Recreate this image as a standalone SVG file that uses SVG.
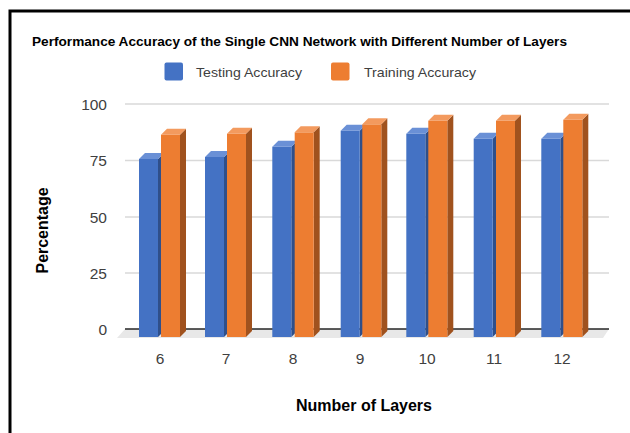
<svg xmlns="http://www.w3.org/2000/svg" width="630" height="433" viewBox="0 0 630 433">
<style>
.grid{stroke:#d9d9d9;stroke-width:1.5}
.axis{stroke:#262626;stroke-width:1.5}
.bf{fill:#4472c4}.bt{fill:#6a90d6}.bs{fill:#2f4f8a}
.of{fill:#ed7d31}.ot{fill:#f39a5e}.os{fill:#a0521e}
.t{font-family:"Liberation Sans",Arial,sans-serif;fill:#404040}
.tick{font-size:15.5px}
.bold{font-weight:bold;fill:#000}
</style>
<rect width="630" height="433" fill="#fff"/>
<rect x="10" y="11" width="700" height="500" fill="none" stroke="#000" stroke-width="3"/>
<text class="t bold" x="32" y="45.5" font-size="12.5" textLength="535" lengthAdjust="spacingAndGlyphs">Performance Accuracy of the Single CNN Network with Different Number of Layers</text>
<g id="legend">
<rect x="164.5" y="62.5" width="18.5" height="18" rx="2" class="bf"/>
<text class="t" x="196" y="77" font-size="13.5" fill="#262626" textLength="106" lengthAdjust="spacingAndGlyphs">Testing Accuracy</text>
<rect x="331" y="62.5" width="18.5" height="18" rx="2" class="of"/>
<text class="t" x="364" y="77" font-size="13.5" fill="#262626" textLength="112" lengthAdjust="spacingAndGlyphs">Training Accuracy</text>
</g>
<g id="gridlines">
<line class="grid" x1="125" y1="104" x2="609" y2="104"/>
<line class="grid" x1="125" y1="160.5" x2="609" y2="160.5"/>
<line class="grid" x1="125" y1="217" x2="609" y2="217"/>
<line class="grid" x1="125" y1="273" x2="609" y2="273"/>
</g>
<polygon id="floor" points="125,329 609,329 603,338 117,338" fill="#e8e8e8"/>
<line class="axis" x1="125" y1="329" x2="609" y2="329"/>
<g id="yticks" class="t tick" text-anchor="end">
<text x="107" y="110">100</text>
<text x="107" y="166">75</text>
<text x="107" y="222.5">50</text>
<text x="107" y="278.5">25</text>
<text x="107" y="335">0</text>
</g>
<g id="bars">
<g id="c6">
<polygon class="bs" points="158,159 164,153 164,331 158,337"/><rect class="bf" x="139" y="159" width="19" height="178"/><polygon class="bt" points="139,159 158,159 164,153 145,153"/>
<polygon class="os" points="180,134.7 186,128.7 186,331 180,337"/><rect class="of" x="161" y="134.7" width="19" height="202.3"/><polygon class="ot" points="161,134.7 180,134.7 186,128.7 167,128.7"/>
</g>
<g id="c7">
<polygon class="bs" points="224,157 230,151 230,331 224,337"/><rect class="bf" x="205" y="157" width="19" height="180"/><polygon class="bt" points="205,157 224,157 230,151 211,151"/>
<polygon class="os" points="246,133.7 252,127.7 252,331 246,337"/><rect class="of" x="227" y="133.7" width="19" height="203.3"/><polygon class="ot" points="227,133.7 246,133.7 252,127.7 233,127.7"/>
</g>
<g id="c8">
<polygon class="bs" points="291.3,146.7 297.3,140.7 297.3,331 291.3,337"/><rect class="bf" x="272.3" y="146.7" width="19" height="190.3"/><polygon class="bt" points="272.3,146.7 291.3,146.7 297.3,140.7 278.3,140.7"/>
<polygon class="os" points="313.7,132.3 319.7,126.3 319.7,331 313.7,337"/><rect class="of" x="294.7" y="132.3" width="19" height="204.7"/><polygon class="ot" points="294.7,132.3 313.7,132.3 319.7,126.3 300.7,126.3"/>
</g>
<g id="c9">
<polygon class="bs" points="359.7,130.7 365.7,124.7 365.7,331 359.7,337"/><rect class="bf" x="340.7" y="130.7" width="19" height="206.3"/><polygon class="bt" points="340.7,130.7 359.7,130.7 365.7,124.7 346.7,124.7"/>
<polygon class="os" points="381.3,124.3 387.3,118.3 387.3,331 381.3,337"/><rect class="of" x="362.3" y="124.3" width="19" height="212.7"/><polygon class="ot" points="362.3,124.3 381.3,124.3 387.3,118.3 368.3,118.3"/>
</g>
<g id="c10">
<polygon class="bs" points="425.3,133.7 431.3,127.7 431.3,331 425.3,337"/><rect class="bf" x="406.3" y="133.7" width="19" height="203.3"/><polygon class="bt" points="406.3,133.7 425.3,133.7 431.3,127.7 412.3,127.7"/>
<polygon class="os" points="447.3,120.7 453.3,114.7 453.3,331 447.3,337"/><rect class="of" x="428.3" y="120.7" width="19" height="216.3"/><polygon class="ot" points="428.3,120.7 447.3,120.7 453.3,114.7 434.3,114.7"/>
</g>
<g id="c11">
<polygon class="bs" points="492.7,138.7 498.7,132.7 498.7,331 492.7,337"/><rect class="bf" x="473.7" y="138.7" width="19" height="198.3"/><polygon class="bt" points="473.7,138.7 492.7,138.7 498.7,132.7 479.7,132.7"/>
<polygon class="os" points="515,120.7 521,114.7 521,331 515,337"/><rect class="of" x="496" y="120.7" width="19" height="216.3"/><polygon class="ot" points="496,120.7 515,120.7 521,114.7 502,114.7"/>
</g>
<g id="c12">
<polygon class="bs" points="560.3,138.7 566.3,132.7 566.3,331 560.3,337"/><rect class="bf" x="541.3" y="138.7" width="19" height="198.3"/><polygon class="bt" points="541.3,138.7 560.3,138.7 566.3,132.7 547.3,132.7"/>
<polygon class="os" points="582.3,119.7 588.3,113.7 588.3,331 582.3,337"/><rect class="of" x="563.3" y="119.7" width="19" height="217.3"/><polygon class="ot" points="563.3,119.7 582.3,119.7 588.3,113.7 569.3,113.7"/>
</g>
</g>
<g id="xticks" class="t tick" text-anchor="middle">
<text x="160" y="364">6</text>
<text x="226" y="364">7</text>
<text x="293" y="364">8</text>
<text x="360" y="364">9</text>
<text x="427" y="364">10</text>
<text x="494" y="364">11</text>
<text x="562" y="364">12</text>
</g>
<text class="t bold" x="364" y="411" font-size="16" text-anchor="middle" textLength="136" lengthAdjust="spacingAndGlyphs">Number of Layers</text>
<text class="t bold" transform="translate(47.5,230.5) rotate(-90)" font-size="16" text-anchor="middle" textLength="86" lengthAdjust="spacingAndGlyphs">Percentage</text>
</svg>
